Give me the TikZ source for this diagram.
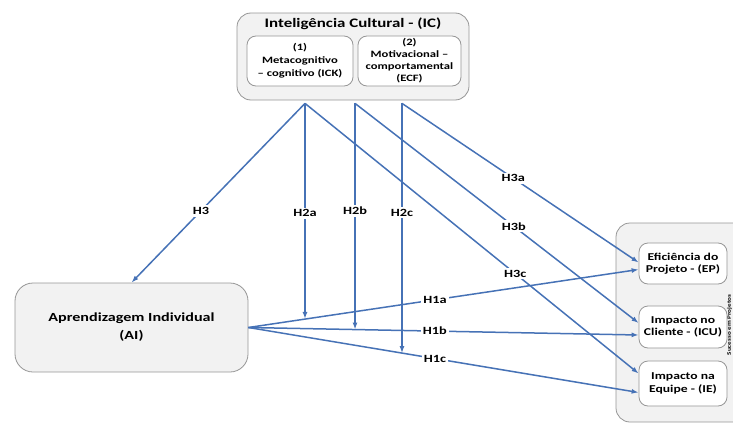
\documentclass[tikz,border=0pt]{standalone}
\usepackage{fontspec}
\setmainfont{Carlito}[FakeStretch=1.3]
\usetikzlibrary{arrows.meta}
\definecolor{linkblue}{RGB}{70,114,182}
\definecolor{boxgray}{RGB}{242,242,242}
\definecolor{edgegray}{RGB}{150,150,150}

\begin{document}
\begin{tikzpicture}[x=1pt, y=-1pt,
  outerbox/.style={draw=edgegray, fill=boxgray, rounded corners=14pt, line width=0.8pt, inner sep=0pt},
  innerbox/.style={draw=edgegray, fill=white, rounded corners=9pt, line width=0.8pt, inner sep=0pt, align=center},
  link/.style={draw=linkblue, line width=1.5pt, -{Latex[length=7pt,width=5pt]}},
  hyp/.style={fill=white, inner sep=2pt, font=\fontsize{11}{12}\selectfont\bfseries}]

\useasboundingbox (0,0) rectangle (733,423);

% Inteligencia Cultural
\node[outerbox, minimum width=232pt, minimum height=87pt] (ic) at (353,56.5) {};
\node[font=\fontsize{13}{14}\selectfont\bfseries] (ictitle) at (353,24) {Inteligência Cultural - (IC)};
\node[innerbox, minimum width=106pt, minimum height=50pt, font=\fontsize{9.7}{13}\selectfont\bfseries] (ick) at (300,61) {(1)\\Metacognitivo\\-- cognitivo (ICK)};
\node[innerbox, minimum width=103pt, minimum height=50pt, font=\fontsize{9.7}{12}\selectfont\bfseries] (ecf) at (409.5,61) {(2)\\Motivacional --\\comportamental\\(ECF)};

% Aprendizagem Individual
\node[outerbox, rounded corners=18pt, minimum width=233pt, minimum height=89pt, align=center, font=\fontsize{12.4}{18}\selectfont\bfseries] (ai) at (131.5,327.5) {Aprendizagem Individual\\(AI)};

% Sucesso em Projetos
\node[outerbox, minimum width=144pt, minimum height=199pt] (sp) at (688,322.5) {};
\node[rotate=90, inner sep=0pt, font=\fontsize{5.5}{6}\selectfont\bfseries] (sptitle) at (729.5,325) {Sucesso em Projetos};
\node[innerbox, minimum width=88pt, minimum height=41pt, font=\fontsize{10.5}{12.5}\selectfont\bfseries] (ep) at (683,263.5) {Eficiência do\\Projeto - (EP)};
\node[innerbox, minimum width=88pt, minimum height=42pt, font=\fontsize{10.5}{12.5}\selectfont\bfseries] (icu) at (683,327) {Impacto no\\Cliente - (ICU)};
\node[innerbox, minimum width=88pt, minimum height=45pt, font=\fontsize{10.5}{12.5}\selectfont\bfseries] (ie) at (683,383.5) {Impacto na\\Equipe - (IE)};

% saidas de IC
\coordinate (s1) at ([xshift=-48pt,yshift=-3pt]ic.south);
\coordinate (s2) at ([xshift=2pt,yshift=-3pt]ic.south);
\coordinate (s3) at ([xshift=49pt,yshift=-3pt]ic.south);

% H1
\draw[link] (ai.east) -- coordinate[pos=0.147] (m1) node[hyp, pos=0.478] (h1a) {H1a} ([yshift=-6pt]ep.west);
\draw[link] (ai.east) -- coordinate[pos=0.274] (m2) node[hyp, pos=0.478] (h1b) {H1b} ([yshift=-8pt]icu.west);
\draw[link] (ai.east) -- coordinate[pos=0.394] (m3) node[hyp, pos=0.478] (h1c) {H1c} ([yshift=-9pt]ie.west);

% H2
\draw[link] (s1) -- node[hyp, pos=0.51] (h2a) {H2a} (s1 |- m1);
\draw[link] (s2) -- node[hyp, pos=0.475] (h2b) {H2b} (s2 |- m2);
\draw[link] (s3) -- node[hyp, pos=0.437] (h2c) {H2c} (s3 |- m3);

% H3
\draw[link] (s1) -- node[hyp, pos=0.6] (h3) {H3} (ai.north);
\draw[link] (s3) -- node[hyp, pos=0.47] (h3a) {H3a} ([yshift=1pt]ep.west);
\draw[link] (s2) -- node[hyp, pos=0.56] (h3b) {H3b} ([yshift=4pt]icu.west);
\draw[link] (s1) -- node[hyp, pos=0.63] (h3c) {H3c} ([yshift=10pt]ie.west);

\end{tikzpicture}
\end{document}
